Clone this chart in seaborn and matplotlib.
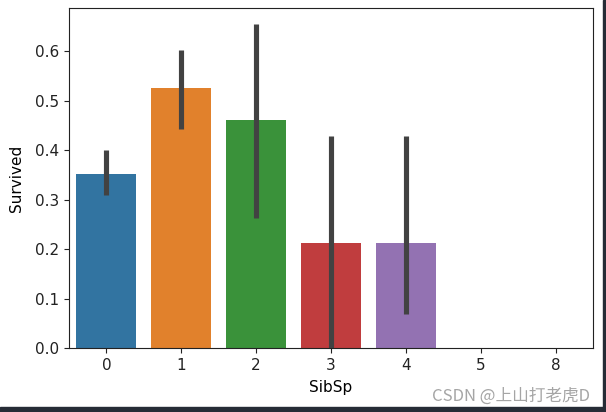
import matplotlib
matplotlib.use("Agg")
import matplotlib.pyplot as plt
import seaborn as sns
import pandas as pd
from matplotlib.patches import Rectangle

# Data
sibsp = ["0", "1", "2", "3", "4", "5", "8"]
survived = [0.353, 0.527, 0.462, 0.213, 0.213, 0.0, 0.0]
ci_low = [0.310, 0.444, 0.264, 0.0, 0.068, 0.0, 0.0]
ci_high = [0.400, 0.603, 0.656, 0.428, 0.428, 0.0, 0.0]

df = pd.DataFrame({"SibSp": sibsp, "Survived": survived})

plt.rcParams["font.size"] = 11

fig = plt.figure(figsize=(6.06, 4.12), dpi=100)
ax = fig.add_axes([69 / 606, 1 - 348 / 412, (593 - 69) / 606, (348 - 8) / 412])

sns.barplot(data=df, x="SibSp", y="Survived", hue="SibSp", order=sibsp,
            palette="tab10", saturation=0.75, legend=False, errorbar=None, ax=ax)

for i, (lo, hi) in enumerate(zip(ci_low, ci_high)):
    if hi > lo:
        ax.vlines(i, lo, hi, color=".26", lw=3.7, zorder=3)

ax.set_ylim(0, 0.688)
ax.set_xlim(-0.5, 6.5)
ax.set_yticks([0.0, 0.1, 0.2, 0.3, 0.4, 0.5, 0.6])
ax.tick_params(labelsize=11, colors="#222222")
ax.set_xlabel("SibSp", fontsize=11, labelpad=5)
ax.set_ylabel("Survived", fontsize=11, labelpad=8)
for s in ax.spines.values():
    s.set_color("#222222")

# screenshot dark frame
fig.patches.append(Rectangle((0, 0), 1, 5 / 412, transform=fig.transFigure,
                             color="#262c36", zorder=0))
fig.patches.append(Rectangle((603 / 606, 0), 3 / 606, 1, transform=fig.transFigure,
                             color="#262c36", zorder=0))

fig.text(590 / 606, 1 - 401 / 412, "CSDN @上山打老虎D", ha="right", va="baseline",
         color="#a5a5a5", fontsize=12,
         family=["Noto Sans CJK SC", "DejaVu Sans"])

fig.savefig("out.png", dpi=100)
